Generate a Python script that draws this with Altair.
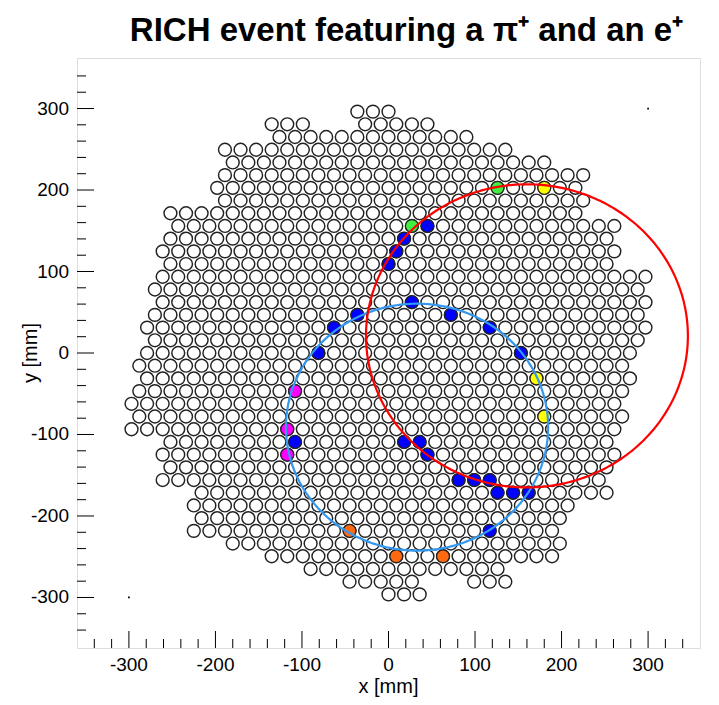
import altair as alt
import pandas as pd

FONT = "Liberation Sans"

# ---------------- data ----------------
# PMT grid geometry (mm)
COL_PITCH = 18
ROW_PITCH = 15.59

# Each PMT segment: row number (row 0 at y = 0), x of first and last PMT centre (mm)
seg_row = [19, 18, 18, 17, 16, 15, 14, 13, 12, 11, 10, 9, 8, 7, 6, 5, 4, 3, 2, 1, 0,
           -1, -2, -3, -4, -5, -6, -7, -8, -9, -10, -11, -12, -13, -14, -15, -16, -17,
           -18, -18, -19]
seg_first = [-36, -135, -27, -126, -189, -180, -189, -198, -189, -252, -243, -252, -261,
             -252, -261, -270, -261, -270, -279, -270, -279,
             -288, -279, -288, -297, -288, -297, -252, -261, -252, -261, -216, -225, -216,
             -225, -180, -135, -90, -45, 99, 0]
seg_last = [0, -99, 45, 90, 135, 180, 225, 216, 225, 216, 261, 252, 261, 252, 297, 288,
            297, 288, 297, 288, 279,
            270, 279, 270, 261, 270, 261, 252, 261, 252, 243, 252, 207, 198, 189, 198,
            189, 126, 27, 135, 36]

# Fired PMTs: x (mm), row number, colour group
hit_x = [27, 72, 117, 153, -63, -36, -81, -108, 18, 36, 45, 81, 99, 117, 126, 144, 162,
         117, 45, 18, 9, 0,
         126, 27,
         180, 171, 180,
         -108, -117, -117,
         -45, 9, 63]
hit_row = [4, 3, 2, 0, 2, 3, 0, -7, -7, -7, -8, -10, -10, -10, -11, -11, -11,
           -14, 10, 9, 8, 7,
           13, 10,
           13, -2, -5,
           -3, -6, -8,
           -14, -16, -16]
hit_group = (["blue"] * 22 + ["green"] * 2 + ["yellow"] * 3 + ["magenta"] * 3
             + ["orange"] * 3)
group_names = ["blue", "green", "yellow", "magenta", "orange"]
group_colours = ["#0000ff", "#40f040", "#ffff00", "#ff00ff", "#ff6a10"]

# Fitted rings: centre (mm), radius (mm)
ring_cx = [33, 160]
ring_cy = [-91, 21]
ring_r = [151.5, 186]
ring_colour = ["#3399f0", "#ff0000"]

# Range markers
marker_x = [-300, 300]
marker_y = [-300, 300]

# Axis ticks / labels
label_values = [-300, -200, -100, 0, 100, 200, 300]
minor_values = [-340, -320, -280, -260, -240, -220, -180, -160, -140, -120, -80, -60,
                -40, -20, 20, 40, 60, 80, 120, 140, 160, 180, 220, 240, 260, 280, 320, 340]

title_text = "RICH event featuring a  π⁺ and an e⁺"
x_title = "x [mm]"
y_title = "y [mm]"

# ---------------- build tables ----------------
pmt_rows = []
for r, a, b in zip(seg_row, seg_first, seg_last):
    for xv in range(a, b + 1, COL_PITCH):
        pmt_rows.append({"x": xv, "y": r * ROW_PITCH})
pmts = pd.DataFrame(pmt_rows)

hits = pd.DataFrame({"x": hit_x, "y": [r * ROW_PITCH for r in hit_row], "g": hit_group})
markers = pd.DataFrame({"x": marker_x, "y": marker_y})
labels_df = pd.DataFrame({"v": label_values, "s": [str(v) for v in label_values]})
major_df = pd.DataFrame({"v": label_values})
minor_df = pd.DataFrame({"v": minor_values})

W, H = 623, 590
xs = alt.Scale(domain=[-360, 360], nice=False, zero=False)
ys = alt.Scale(domain=[-362, 362], nice=False, zero=False)


def X(f):
    return alt.X(f, scale=xs, axis=None)


def Y(f):
    return alt.Y(f, scale=ys, axis=None)


pmt_layer = alt.Chart(pmts).mark_circle(
    size=165, fill="white", stroke="#222222", strokeWidth=1.45, opacity=1
).encode(x=X("x:Q"), y=Y("y:Q"))

hit_layer = alt.Chart(hits).mark_circle(
    size=165, stroke="#222222", strokeWidth=1.2, opacity=1
).encode(
    x=X("x:Q"),
    y=Y("y:Q"),
    fill=alt.Fill("g:N", scale=alt.Scale(domain=group_names, range=group_colours),
                  legend=None),
)

ring_layers = []
for cx, cy, r, col in zip(ring_cx, ring_cy, ring_r, ring_colour):
    ring_layers.append(
        alt.Chart(alt.sequence(0, 361, 1, as_="t"))
        .transform_calculate(
            x=f"{cx} + {r} * cos(datum.t * PI / 180)",
            y=f"{cy} + {r} * sin(datum.t * PI / 180)",
        )
        .mark_line(color=col, strokeWidth=2.2)
        .encode(x=X("x:Q"), y=Y("y:Q"), order=alt.Order("t:Q"))
    )

marker_layer = alt.Chart(markers).mark_square(size=3, color="black", opacity=1).encode(
    x=X("x:Q"), y=Y("y:Q"))

x_major = alt.Chart(major_df).mark_rule(color="black", strokeWidth=1).encode(
    x=X("v:Q"), y=alt.value(H), y2=alt.value(H - 17))
x_minor = alt.Chart(minor_df).mark_rule(color="black", strokeWidth=1).encode(
    x=X("v:Q"), y=alt.value(H), y2=alt.value(H - 9))
y_major = alt.Chart(major_df).mark_rule(color="black", strokeWidth=1).encode(
    y=Y("v:Q"), x=alt.value(0), x2=alt.value(17))
y_minor = alt.Chart(minor_df).mark_rule(color="black", strokeWidth=1).encode(
    y=Y("v:Q"), x=alt.value(0), x2=alt.value(9))

x_labels = alt.Chart(labels_df).mark_text(
    font=FONT, fontSize=19, color="black", align="center", baseline="top"
).encode(x=X("v:Q"), y=alt.value(H + 8), text="s:N")
y_labels = alt.Chart(labels_df).mark_text(
    font=FONT, fontSize=19, color="black", align="right", baseline="middle"
).encode(y=Y("v:Q"), x=alt.value(-8), text="s:N")

x_title_layer = alt.Chart(pd.DataFrame({"s": [x_title]})).mark_text(
    font=FONT, fontSize=20, color="black", align="center", baseline="alphabetic"
).encode(x=alt.value(W / 2), y=alt.value(H + 45), text="s:N")
y_title_layer = alt.Chart(pd.DataFrame({"s": [y_title]})).mark_text(
    font=FONT, fontSize=20, color="black", align="center", baseline="alphabetic",
    angle=270
).encode(x=alt.value(-40), y=alt.value(H / 2), text="s:N")
title_layer = alt.Chart(pd.DataFrame({"s": [title_text]})).mark_text(
    font=FONT, fontSize=33, fontWeight="bold", color="black", align="center",
    baseline="alphabetic"
).encode(x=alt.value(W / 2 + 18), y=alt.value(-17), text="s:N")

chart = alt.layer(
    pmt_layer, hit_layer, *ring_layers, marker_layer, x_major, x_minor, y_major, y_minor,
    x_labels, y_labels, x_title_layer, y_title_layer, title_layer
).properties(
    width=W,
    height=H,
    autosize=alt.AutoSizeParams(type="none"),
    padding={"left": 77, "top": 58, "right": 19, "bottom": 57},
).configure_view(
    stroke="black", strokeWidth=1.2
).configure(background="white")

chart.save("out.html", embed_options={"renderer": "svg", "actions": False})
